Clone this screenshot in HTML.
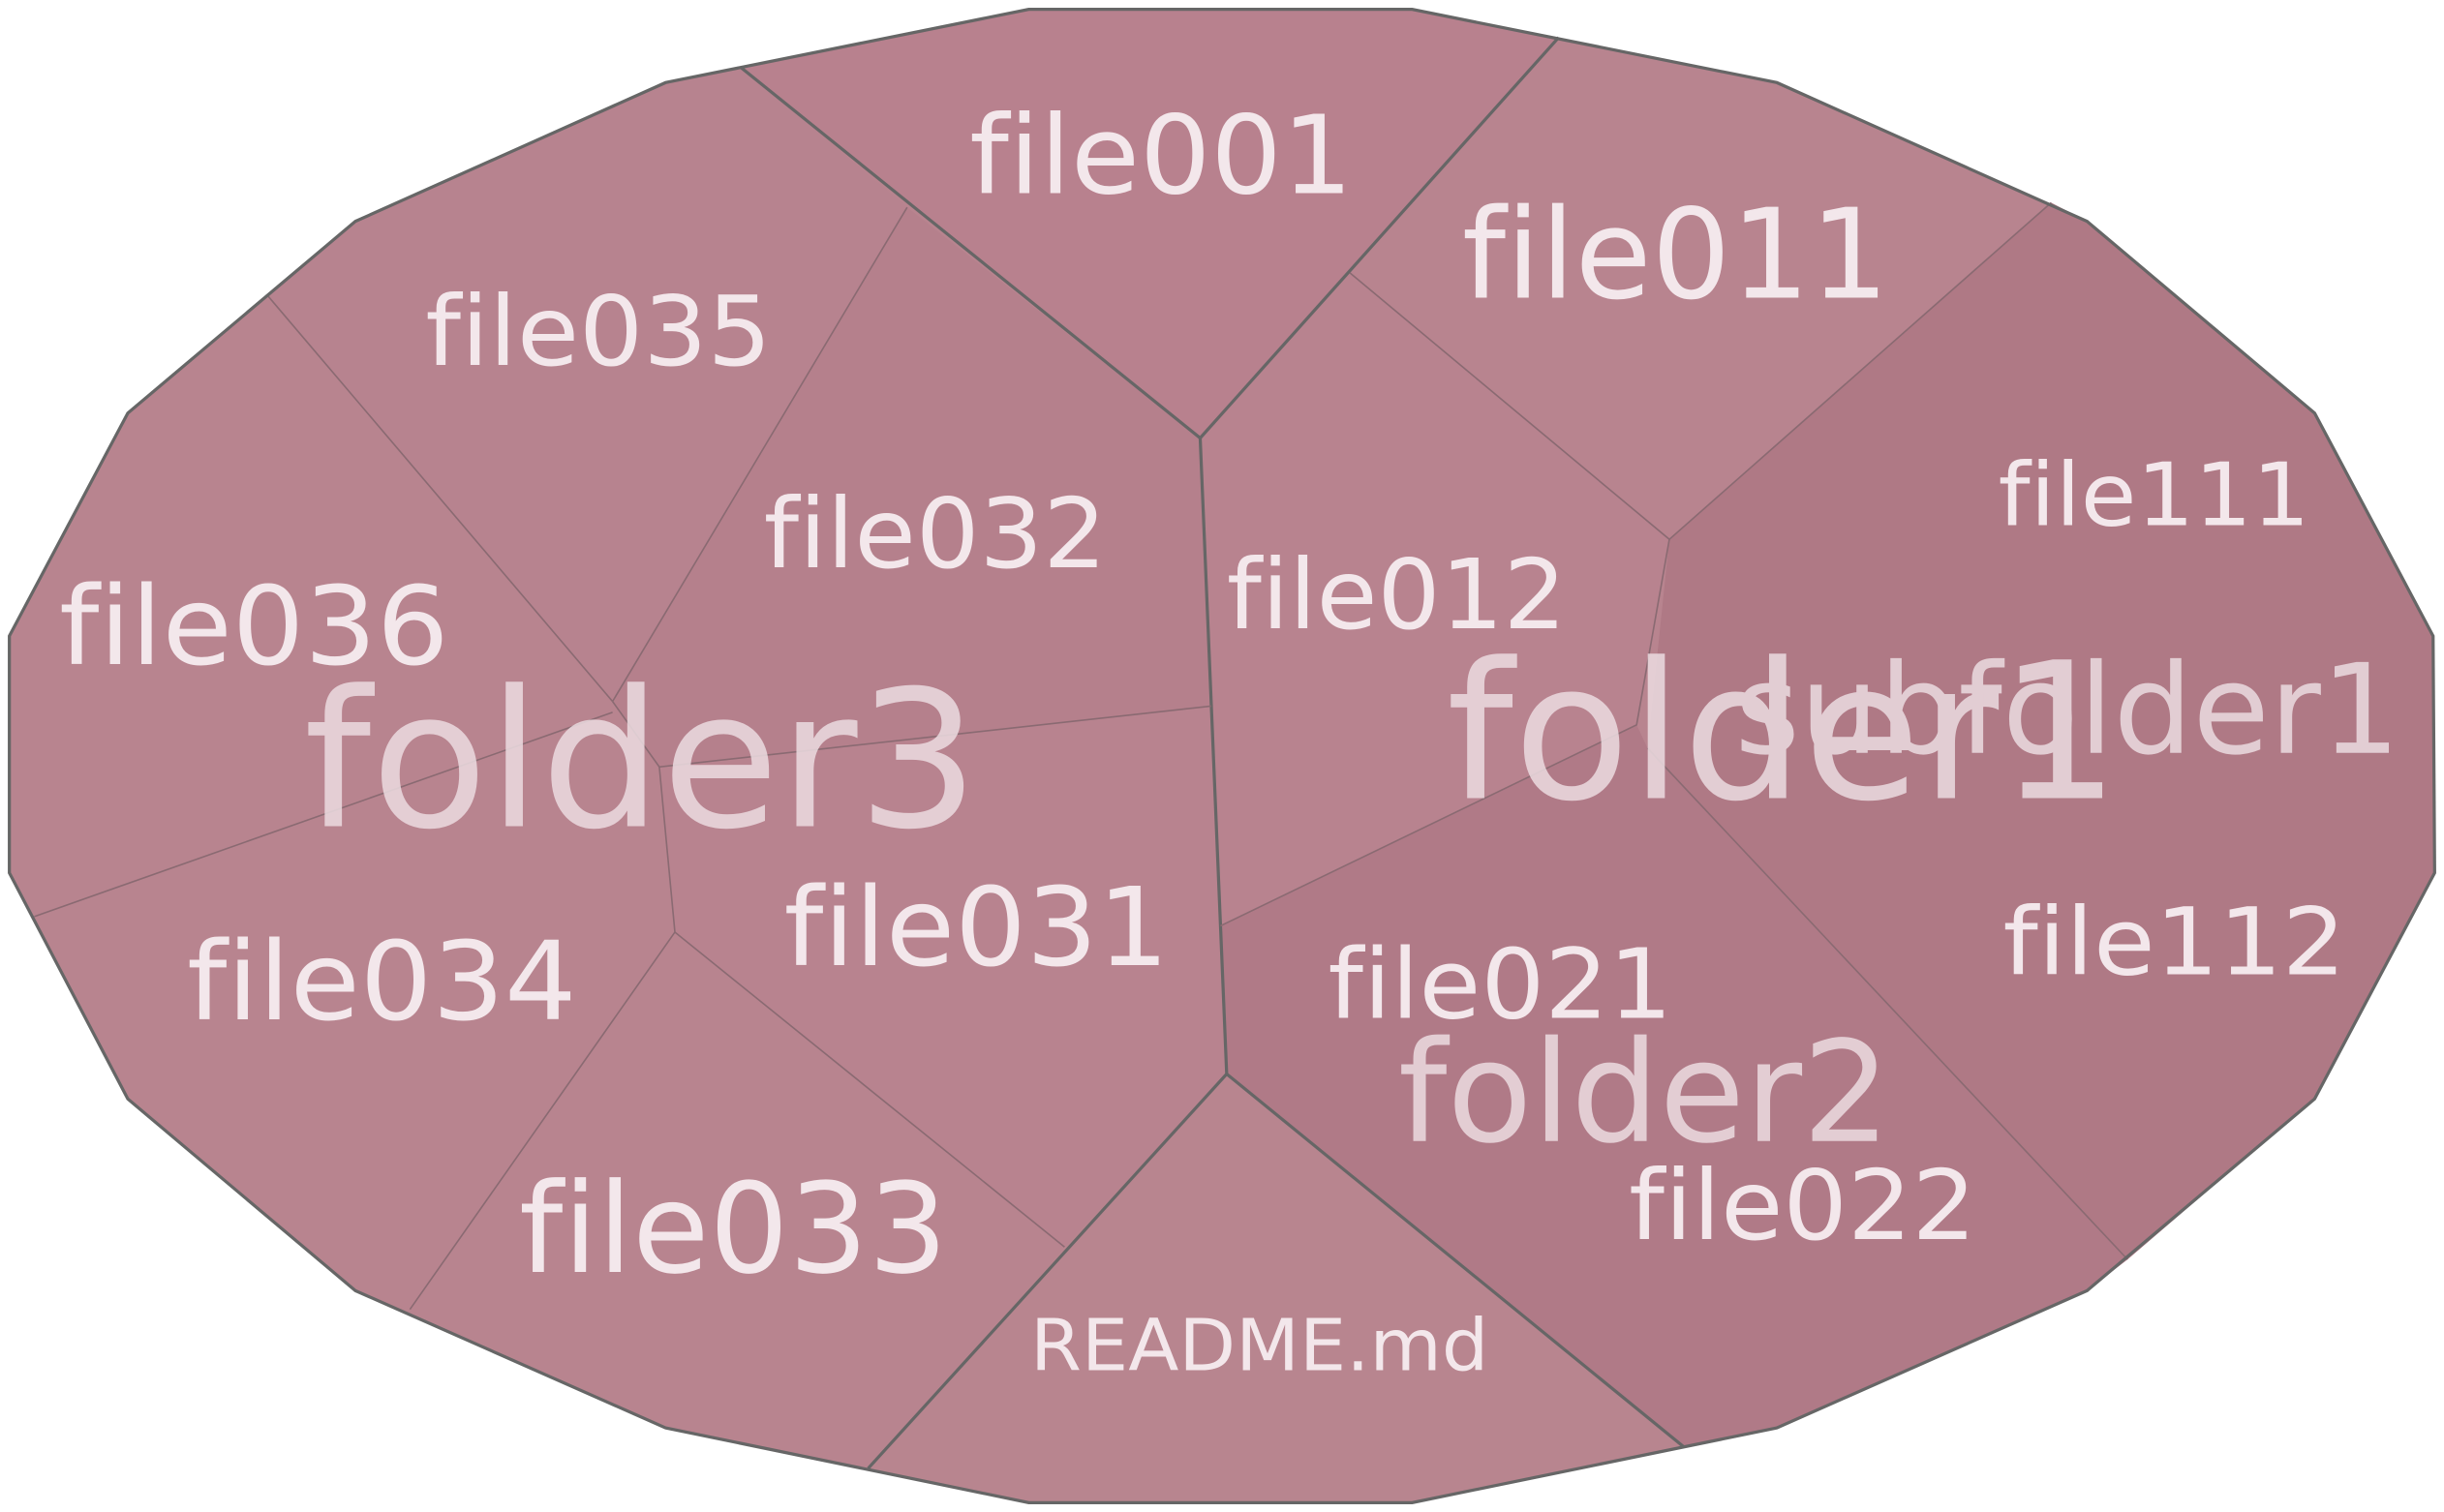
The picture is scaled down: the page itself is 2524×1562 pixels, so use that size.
<!DOCTYPE html>
<html><head><meta charset="utf-8"><style>
html,body{margin:0;padding:0;background:#fff;}
svg{display:block;}
text{font-family:"DejaVu Sans","Liberation Sans",sans-serif;fill:#f3e7eb;font-variant-ligatures:none;font-feature-settings:"liga" 0;}
</style></head><body>
<svg width="2524" height="1562" viewBox="0 0 1568 970" preserveAspectRatio="none" xmlns="http://www.w3.org/2000/svg">
<polygon points="660,6 906,6 1140,53 1339,142 1485,265 1561,408 1562,560 1485,705 1339,828 1140,916 906,964 660,964 427,916 228,828 82,705 6,560 6,408 82,265 228,142 427,53" fill="#b8848f"/>
<polygon points="1316,130 1339,142 1485,265 1561,408 1562,560 1485,705 1365,808 1057,480 1071,346" fill="#af7985"/>
<polygon points="783,594 1050,465 1057,480 1365,808 1339,828 1140,916 1080,928 787,689" fill="#b07a87"/>
<polygon points="770,281 866,175 1071,346 1050,465 783,594" fill="#b8838f"/>
<polygon points="475,43 660,6 906,6 1000,24 770,281" fill="#b8818e"/>
<polygon points="172,190 228,142 427,53 475,43 582,133 393,450" fill="#b7838f"/>
<polygon points="582,133 770,281 777,453 423,492 393,450" fill="#b5808c"/>
<polygon points="423,492 777,453 787,689 683,800 433,598" fill="#b8838f"/>
<polygon points="557,942 683,800 787,689 1080,928 906,964 660,964" fill="#b8858f"/>
<g stroke="#666" stroke-width="2" fill="none">
<polyline points="475,43 770,281 1000,24"/>
<polyline points="770,281 787,689 557,942"/>
<line x1="787" y1="689" x2="1080" y2="928"/>
</g>
<g stroke="#8a6a72" stroke-width="1" fill="none">
<line x1="172" y1="190" x2="393" y2="450"/>
<line x1="582" y1="133" x2="393" y2="450"/>
<polyline points="393,450 423,492 777,453"/>
<polyline points="423,492 433,598 683,800"/>
<line x1="433" y1="598" x2="263" y2="840"/>
<line x1="393" y1="457" x2="22" y2="588"/>
<polyline points="866,175 1071,346 1316,130"/>
<polyline points="1071,346 1050,465 783,594"/>
<line x1="1057" y1="480" x2="1365" y2="808"/>
</g>
<polygon points="660,6 906,6 1140,53 1339,142 1485,265 1561,408 1562,560 1485,705 1339,828 1140,916 906,964 660,964 427,916 228,828 82,705 6,560 6,408 82,265 228,142 427,53" fill="none" stroke="#666" stroke-width="2"/>
<text x="622" y="124" font-size="70" textLength="246" lengthAdjust="spacingAndGlyphs">file001</text>
<text x="938" y="191" font-size="80" textLength="274" lengthAdjust="spacingAndGlyphs">file011</text>
<text x="273" y="234" font-size="62" textLength="222" lengthAdjust="spacingAndGlyphs">file035</text>
<text x="490" y="364" font-size="62" textLength="220" lengthAdjust="spacingAndGlyphs">file032</text>
<text x="38" y="426" font-size="70" textLength="250" lengthAdjust="spacingAndGlyphs">file036</text>
<text x="787" y="403" font-size="62" textLength="218" lengthAdjust="spacingAndGlyphs">file012</text>
<text x="1282" y="337" font-size="56" textLength="200" lengthAdjust="spacingAndGlyphs">file111</text>
<text x="1285" y="625" font-size="60" textLength="220" lengthAdjust="spacingAndGlyphs">file112</text>
<text x="503" y="619" font-size="70" textLength="247" lengthAdjust="spacingAndGlyphs">file031</text>
<text x="120" y="654" font-size="70" textLength="250" lengthAdjust="spacingAndGlyphs">file034</text>
<text x="852" y="653" font-size="62" textLength="221" lengthAdjust="spacingAndGlyphs">file021</text>
<text x="1045" y="795" font-size="62" textLength="223" lengthAdjust="spacingAndGlyphs">file022</text>
<text x="333" y="816" font-size="80" textLength="275" lengthAdjust="spacingAndGlyphs">file033</text>
<text x="661" y="879" font-size="46" textLength="294" lengthAdjust="spacingAndGlyphs">README.md</text>
<g style="opacity:0.85">
<text x="195" y="530" font-size="122" textLength="433" lengthAdjust="spacingAndGlyphs" style="fill:#ecdce1">folder3</text>
<text x="928" y="512" font-size="122" textLength="432" lengthAdjust="spacingAndGlyphs" style="fill:#ecdce1">folder1</text>
<text x="1113" y="483" font-size="80" textLength="427" lengthAdjust="spacingAndGlyphs" style="fill:#ecdce1">subfolder1</text>
<text x="897" y="732" font-size="90" textLength="316" lengthAdjust="spacingAndGlyphs" style="fill:#ecdce1">folder2</text>
</g>
</svg>
</body></html>
